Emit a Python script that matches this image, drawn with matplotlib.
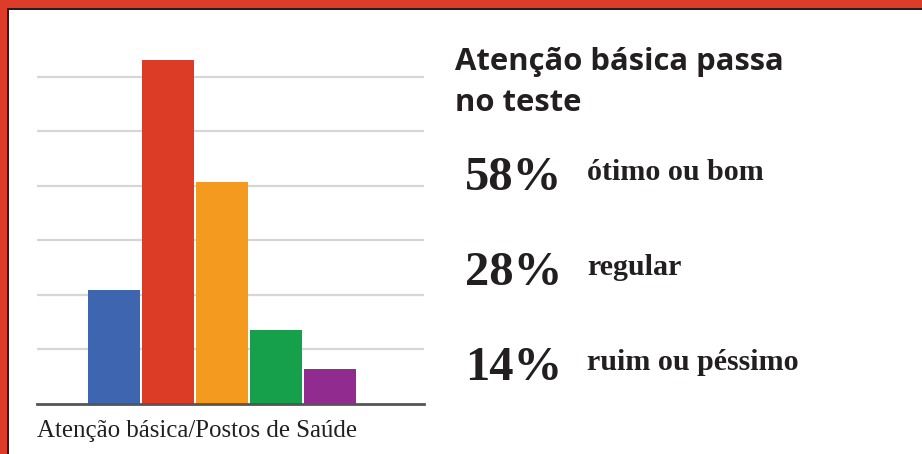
import matplotlib
matplotlib.use("Agg")
import matplotlib.pyplot as plt
from matplotlib.patches import Rectangle

# bar heights (grid step = 10)
categorias = ["ótimo", "bom", "regular", "ruim", "péssimo"]
valores = [20.9, 63.0, 40.7, 13.6, 6.4]
cores = ["#3e66b0", "#dc3c26", "#f49b1f", "#17a04b", "#912b8f"]

titulo = ["Atenção básica passa", "no teste"]
percentuais = ["58%", "28%", "14%"]
rotulos = ["ótimo ou bom", "regular", "ruim ou péssimo"]
rodape = "Atenção básica/Postos de Saúde"

W, H = 922, 454
fig = plt.figure(figsize=(W / 100, H / 100), dpi=100)
fig.patch.set_facecolor("white")

def fx(px):
    return px / W

def fy(py):
    return 1 - py / H

# red frame on top and left with dark inner line
fig.patches.append(Rectangle((0, fy(8)), 1, 8 / H, transform=fig.transFigure,
                             facecolor="#dc3c28", edgecolor="none", zorder=5))
fig.patches.append(Rectangle((0, 0), 7 / W, 1, transform=fig.transFigure,
                             facecolor="#dc3c28", edgecolor="none", zorder=5))
fig.patches.append(Rectangle((7 / W, fy(10)), 1, 2 / H, transform=fig.transFigure,
                             facecolor="#231f20", edgecolor="none", zorder=5))
fig.patches.append(Rectangle((7 / W, 0), 2 / W, fy(8), transform=fig.transFigure,
                             facecolor="#231f20", edgecolor="none", zorder=5))

ax = fig.add_axes([fx(37), fy(404), fx(424) - fx(37), (404 - 44) / H])
x = list(range(len(valores)))
ax.bar(x, valores, width=0.96, color=cores, zorder=3)
ax.set_xlim(-1.43, 5.74)
ax.set_ylim(0, 66)
ax.set_yticks([10, 20, 30, 40, 50, 60])
ax.yaxis.grid(True, color="#d6d6d6", linewidth=1.6, zorder=0)
ax.set_xticks([])
ax.tick_params(left=False, labelleft=False)
for s in ["top", "right", "left"]:
    ax.spines[s].set_visible(False)
ax.spines["bottom"].set_color("#555555")
ax.spines["bottom"].set_linewidth(2)
ax.spines["bottom"].set_zorder(4)

fig.text(fx(37), fy(437), rodape, family="Liberation Serif", fontsize=17.9,
         color="#231f20", va="baseline")

for linha, b in zip(titulo, [70, 111]):
    fig.text(fx(455), fy(b), linha, family="Open Sans", fontweight="bold",
             fontsize=22.3, color="#231f20", va="baseline")

bases = [190, 285, 380]
for p, r, b in zip(percentuais, rotulos, bases):
    fig.text(fx(465), fy(b), p, family="Liberation Serif", fontweight="bold",
             fontsize=35, color="#231f20", va="baseline")
    fig.text(fx(587), fy(b - 10), r, family="Liberation Serif", fontweight="bold",
             fontsize=21.6, color="#231f20", va="baseline")

fig.savefig("out.png", dpi=100)
